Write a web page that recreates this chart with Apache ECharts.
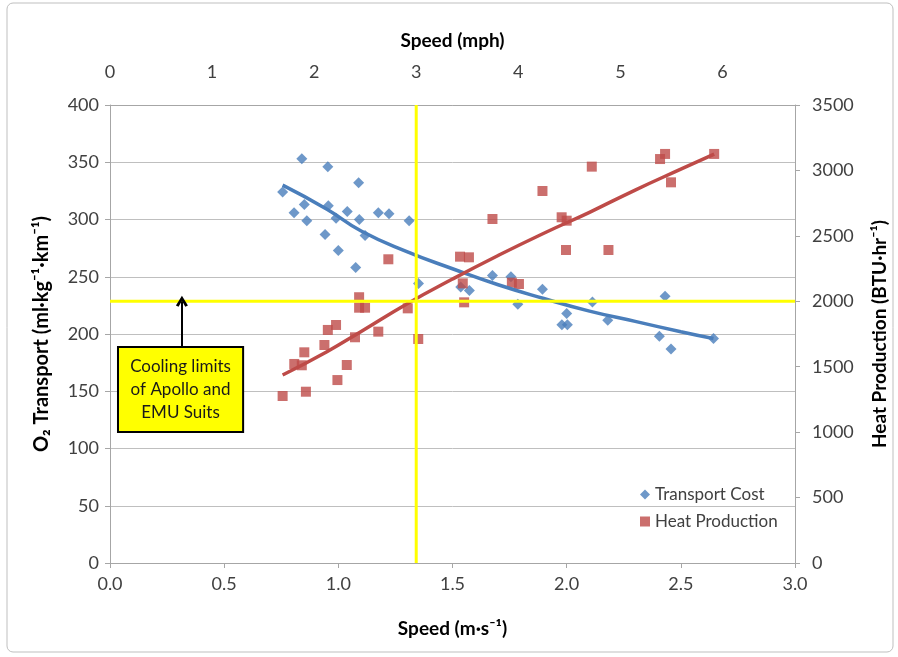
<!DOCTYPE html>
<html><head><meta charset="utf-8">
<script src="https://cdn.jsdelivr.net/npm/echarts@6/dist/echarts.min.js"></script>
<style>html,body{margin:0;padding:0;background:#fff}#c{width:898px;height:657px}</style>
</head><body><div id="c"></div>
<script>
// ---- data (speed in m/s) ----
const transportSpeed = [0.756,0.806,0.840,0.851,0.862,0.942,0.954,0.956,0.990,1.000,1.039,1.076,1.089,1.092,1.117,1.175,1.222,1.310,1.351,1.536,1.574,1.675,1.756,1.786,1.894,1.979,2.000,2.003,2.113,2.180,2.406,2.431,2.457,2.643];
const transportCost  = [324,306,353,313,299,287,346,312,301,273,307,258,332,300,286,306,305,299,244,241,238,251,250,226,239,208,218,208,228,212,198,233,187,196];
const heatSpeed      = [0.756,0.807,0.840,0.851,0.858,0.939,0.954,0.990,0.996,1.037,1.073,1.091,1.091,1.117,1.175,1.219,1.304,1.350,1.533,1.545,1.551,1.572,1.675,1.760,1.791,1.894,1.978,1.997,2.000,2.110,2.183,2.409,2.431,2.457,2.646];
const heatProduction = [1276,1521,1511,1610,1309,1666,1781,1819,1398,1513,1725,2031,1951,1951,1768,2321,1946,1712,2341,2137,1992,2336,2629,2142,2132,2843,2642,2392,2616,3029,2392,3087,3126,2909,3126];
// trend lines
const transportTrendSpeed = [0.756,0.95,1.1,1.3,1.5,1.7,1.9,2.1,2.3,2.5,2.643];
const transportTrendCost  = [330,309,290,272,257,243,231,220,211,202,196];
const heatTrendSpeed = [0.756,0.95,1.1,1.3,1.5,1.7,1.9,2.1,2.3,2.5,2.646];
const heatTrendValue = [1437,1615,1770,1980,2170,2350,2520,2680,2850,3010,3125];
// axes / ticks
const speedMsTicks = [0,0.5,1.0,1.5,2.0,2.5,3.0];
const speedMphTicks = [0,1,2,3,4,5,6];
const o2Ticks = [0,50,100,150,200,250,300,350,400];
const heatTicks = [0,500,1000,1500,2000,2500,3000,3500];
const MPH_TO_MS = 0.44704;
// limits
const suitLimitSpeedMph = 3;
const suitCoolingLimitBTU = 2000;
const annotationLines = ['Cooling limits','of Apollo and','EMU Suits'];
const annotationBox = {x0:0.035, x1:0.583, yTop:188.6, yBottom:114.4, arrowX:0.315};

const FONT = 'Lato';
const LABEL = {fontFamily:FONT, fontSize:18, color:'#404040'};
const NAME = {fontFamily:FONT, fontSize:19, fontWeight:'bold', color:'#000'};
const AXLINE = {show:true, onZero:false, lineStyle:{color:'#A6A6A6', width:1}};
const GRIDLINE = {show:true, lineStyle:{color:'#BFBFBF', width:1}};

const limitSpeedMs = suitLimitSpeedMph * MPH_TO_MS;
const heatMax = heatTicks[heatTicks.length-1];
const o2Max = o2Ticks[o2Ticks.length-1];
const coolingLimitLeft = suitCoolingLimitBTU / heatMax * o2Max;

const chart = echarts.init(document.getElementById('c'), null, {renderer:'canvas'});
chart.setOption({
  backgroundColor:'#fff',
  animation:false,
  graphic:[{type:'rect', shape:{x:7,y:3,width:886,height:649,r:6}, style:{fill:'none', stroke:'#BFBFBF', lineWidth:1}, silent:true}],
  grid:{left:110, right:103, top:105, bottom:94},
  legend:{
    data:[{name:'Transport Cost', icon:'diamond'},{name:'Heat Production', icon:'rect'}],
    orient:'vertical', left:635, top:481, itemGap:10, itemWidth:10, itemHeight:10,
    textStyle:{fontFamily:FONT, fontSize:17, color:'#404040'}
  },
  xAxis:[
    {type:'value', position:'bottom', min:speedMsTicks[0], max:speedMsTicks[speedMsTicks.length-1], interval:speedMsTicks[1]-speedMsTicks[0],
     name:'Speed (m·s⁻¹)', nameLocation:'middle', nameGap:56, nameTextStyle:NAME,
     axisLine:AXLINE, axisTick:{show:true, inside:false, length:5, lineStyle:{color:'#A6A6A6'}},
     axisLabel:Object.assign({margin:12, formatter:v=>v.toFixed(1)}, LABEL), splitLine:{show:false}},
    {type:'value', position:'top', min:speedMphTicks[0], max:speedMsTicks[speedMsTicks.length-1]/MPH_TO_MS, interval:speedMphTicks[1]-speedMphTicks[0],
     name:'Speed (mph)', nameLocation:'middle', nameGap:55, nameTextStyle:NAME,
     axisLine:AXLINE, axisTick:{show:false},
     axisLabel:Object.assign({margin:24, showMaxLabel:false}, LABEL), splitLine:{show:false}}
  ],
  yAxis:[
    {type:'value', position:'left', min:o2Ticks[0], max:o2Max, interval:o2Ticks[1]-o2Ticks[0],
     name:'O₂ Transport (ml·kg⁻¹·km⁻¹)', nameLocation:'middle', nameRotate:90, nameGap:58, nameTextStyle:Object.assign({}, NAME, {fontSize:20}),
     axisLine:AXLINE, axisTick:{show:true, length:5, lineStyle:{color:'#A6A6A6'}},
     axisLabel:Object.assign({margin:11}, LABEL), splitLine:GRIDLINE},
    {type:'value', position:'right', min:heatTicks[0], max:heatMax, interval:heatTicks[1]-heatTicks[0],
     name:'Heat Production (BTU·hr⁻¹)', nameLocation:'middle', nameRotate:90, nameGap:75, nameTextStyle:NAME,
     axisLine:AXLINE, axisTick:{show:true, length:5, lineStyle:{color:'#A6A6A6'}},
     axisLabel:Object.assign({margin:17, formatter:v=>String(v)}, LABEL), splitLine:{show:false}}
  ],
  series:[
    {name:'Transport Cost', type:'scatter', xAxisIndex:0, yAxisIndex:0, symbol:'diamond', symbolSize:11,
     itemStyle:{color:'#4A7EBB'}, data:transportSpeed.map((s,i)=>[s,transportCost[i]]),
     markArea:{silent:true, itemStyle:{color:'#FFFF00', borderColor:'#000', borderWidth:2},
       label:{show:true, position:'inside', formatter:annotationLines.join('\n'), fontFamily:FONT, fontSize:17, lineHeight:23, color:'#1a1a1a'},
       data:[[{coord:[annotationBox.x0, annotationBox.yTop]},{coord:[annotationBox.x1, annotationBox.yBottom]}]]},
     markLine:{silent:true, symbol:['none','path://M0,9 L5,0 L10,9 L7.8,10.2 L5,4.6 L2.2,10.2 Z'], symbolSize:[12,11],
       label:{show:false}, lineStyle:{color:'#000', width:2, type:'solid'}, itemStyle:{color:'#000'},
       data:[[{coord:[annotationBox.arrowX, annotationBox.yTop]},{coord:[annotationBox.arrowX, coolingLimitLeft]}]]}
    },
    {name:'Heat Production', type:'scatter', xAxisIndex:0, yAxisIndex:1, symbol:'rect', symbolSize:10,
     itemStyle:{color:'#BE4B48'}, data:heatSpeed.map((s,i)=>[s,heatProduction[i]])},
    {name:'Transport trend', type:'line', xAxisIndex:0, yAxisIndex:0, smooth:true, showSymbol:false, silent:true,
     lineStyle:{color:'#4A7EBB', width:3.5}, data:transportTrendSpeed.map((s,i)=>[s,transportTrendCost[i]])},
    {name:'Heat trend', type:'line', xAxisIndex:0, yAxisIndex:1, smooth:true, showSymbol:false, silent:true,
     lineStyle:{color:'#BE4B48', width:3.5}, data:heatTrendSpeed.map((s,i)=>[s,heatTrendValue[i]])},
    {name:'Cooling limit', type:'line', xAxisIndex:0, yAxisIndex:1, showSymbol:false, silent:true,
     lineStyle:{color:'#FFFF00', width:3}, data:[[speedMsTicks[0],suitCoolingLimitBTU],[speedMsTicks[speedMsTicks.length-1],suitCoolingLimitBTU]]},
    {name:'Speed limit', type:'line', xAxisIndex:0, yAxisIndex:0, showSymbol:false, silent:true,
     lineStyle:{color:'#FFFF00', width:3}, data:[[limitSpeedMs,o2Ticks[0]],[limitSpeedMs,o2Max]]}
  ]
});
</script></body></html>
